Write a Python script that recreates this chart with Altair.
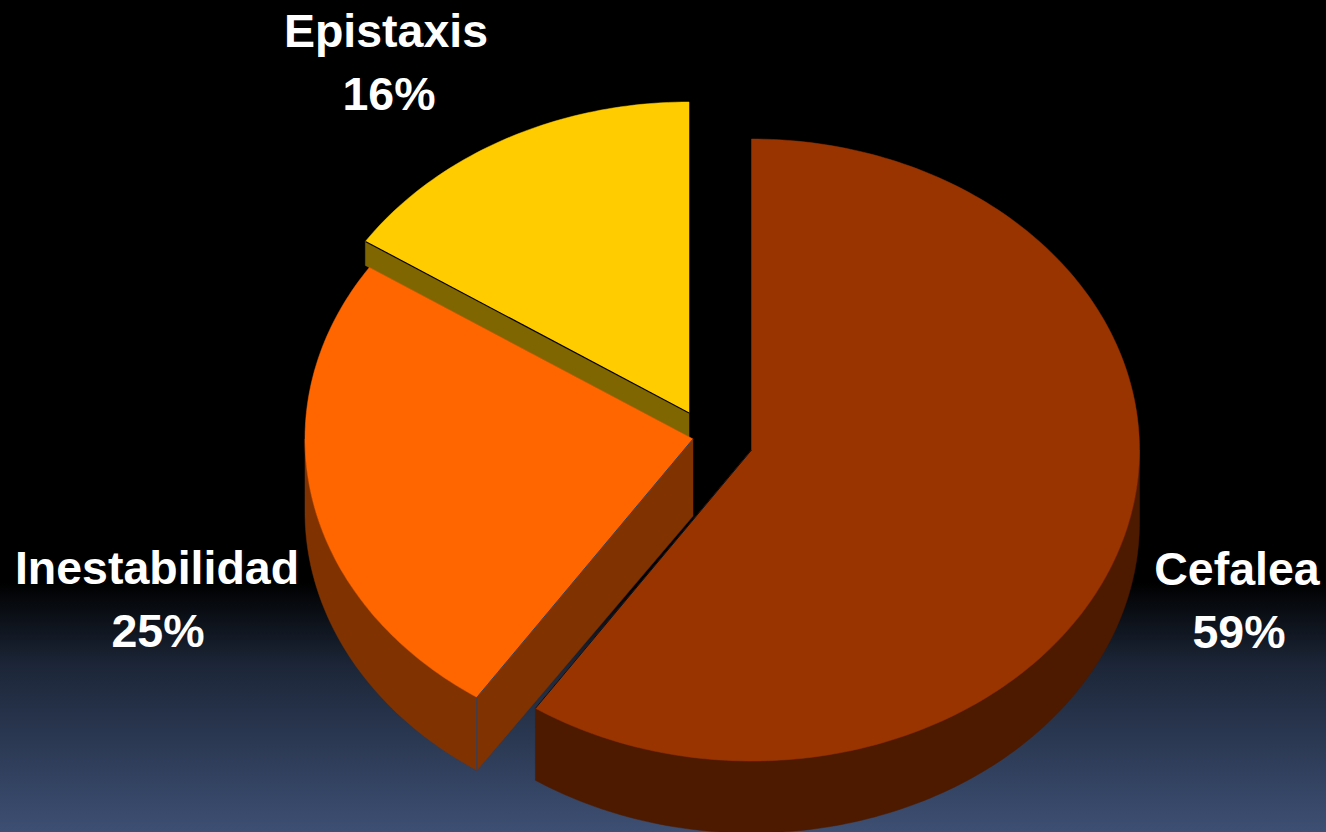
import math
import altair as alt

# Symptom shares, in percent, clockwise from twelve o'clock
names = ["Cefalea", "Inestabilidad", "Epistaxis"]
shares = [59.4, 24.9, 15.7]
top_colors = ["#993300", "#ff6600", "#ffcc00"]
outer_wall_colors = ["#4d1a00", "#803300", None]
radial_wall_colors = [None, "#803300", "#806600"]

# Pie geometry: each exploded slice has its own apex on a flattened disc
WIDTH, HEIGHT = 1326, 832
RADIUS_X, RADIUS_Y = 388, 311
apexes = [(751.5, 450), (693, 439), (689, 413)]
wall_depths = [72, 73, 24]
INNER_WALL_DEPTH = 77  # the wall looks taller towards the middle of the disc
name_anchors = [(1237, 571), (157, 570), (386, 33)]
share_anchors = [(1239, 634), (158, 633), (389, 96)]
BACKDROP = "#33415f"


def rim_point(apex, angle):
    return (apex[0] + RADIUS_X * math.sin(angle), apex[1] - RADIUS_Y * math.cos(angle))


def rim_arc(apex, start, end, step=math.radians(1.0)):
    count = max(2, int(abs(end - start) / step))
    return [rim_point(apex, start + (end - start) * i / count) for i in range(count + 1)]


def polygon(points, fill):
    ring = [list(p) for p in points] + [list(points[0])]
    return {
        "type": "Feature",
        "properties": {"fill": fill, "stroke": fill, "weight": 0.5},
        "geometry": {"type": "Polygon", "coordinates": [ring]},
    }


def seam(points, color, weight):
    return {
        "type": "Feature",
        "properties": {"fill": color, "stroke": color, "weight": weight},
        "geometry": {"type": "LineString", "coordinates": [list(p) for p in points]},
    }


def extruded(points, depth):
    return points + [(x, y + depth) for x, y in points][::-1]


bounds = []
running = 0.0
for share in shares:
    bounds.append((running / 100 * math.tau, (running + share) / 100 * math.tau))
    running += share

# Painter's order: walls first, the faces that sit over them afterwards
features = []

# Epistaxis: only the wall under its lower radial edge shows
apex, (start, end), depth = apexes[2], bounds[2], wall_depths[2]
lower_edge = [apex, rim_point(apex, start)]
features.append(polygon(extruded(lower_edge, depth), radial_wall_colors[2]))
features.append(polygon([apex] + rim_arc(apex, start, end), top_colors[2]))
features.append(seam(lower_edge, "#000000", 1.2))

# Inestabilidad: curved wall, radial wall and face
apex, (start, end), depth = apexes[1], bounds[1], wall_depths[1]
rim = rim_arc(apex, max(start, math.pi / 2), min(end, 3 * math.pi / 2))
features.append(polygon(extruded(rim, depth), outer_wall_colors[1]))
corner = rim_point(apex, start)
features.append(
    polygon(
        [apex, corner, (corner[0], corner[1] + depth), (apex[0], apex[1] + INNER_WALL_DEPTH)],
        radial_wall_colors[1],
    )
)
features.append(polygon([apex] + rim_arc(apex, start, end), top_colors[1]))
features.append(seam([apex, corner], BACKDROP, 1.0))
features.append(seam([corner, (corner[0], corner[1] + depth)], BACKDROP, 1.4))

# Cefalea: curved wall and face
apex, (start, end), depth = apexes[0], bounds[0], wall_depths[0]
rim = rim_arc(apex, max(start, math.pi / 2), min(end, 3 * math.pi / 2))
features.append(polygon(extruded(rim, depth), outer_wall_colors[0]))
features.append(polygon([apex] + rim_arc(apex, start, end), top_colors[0]))
features.append(seam([apex, rim_point(apex, end)], "#0c1019", 1.0))

background = (
    alt.Chart(alt.Data(values=[{"band": 0}]))
    .mark_rect(
        color=alt.Gradient(
            gradient="linear",
            x1=0, x2=0, y1=0, y2=1,
            stops=[
                alt.GradientStop(offset=0, color="#000000"),
                alt.GradientStop(offset=0.70, color="#000000"),
                alt.GradientStop(offset=0.80, color="#1c2638"),
                alt.GradientStop(offset=1, color="#3d4f73"),
            ],
        )
    )
    .encode(x=alt.value(0), x2=alt.value(WIDTH), y=alt.value(0), y2=alt.value(HEIGHT))
)

slices = (
    alt.Chart(
        alt.Data(
            values={"type": "FeatureCollection", "features": features},
            format=alt.DataFormat(type="json", property="features"),
        )
    )
    .mark_geoshape()
    .encode(
        fill=alt.Fill("properties.fill:N", scale=None),
        stroke=alt.Stroke("properties.stroke:N", scale=None),
        strokeWidth=alt.StrokeWidth("properties.weight:Q", scale=None),
    )
    .project(type="identity", scale=1, translate=[0, 0])
)

label_rows = []
for name, share, name_at, share_at in zip(names, shares, name_anchors, share_anchors):
    label_rows.append({"text": name, "px": name_at[0], "py": name_at[1]})
    label_rows.append({"text": f"{share:.0f}%", "px": share_at[0], "py": share_at[1]})

labels = (
    alt.Chart(alt.Data(values=label_rows))
    .mark_text(
        font="Liberation Sans",
        fontWeight="bold",
        fontSize=46.5,
        color="white",
        align="center",
        baseline="middle",
    )
    .encode(
        x=alt.X("px:Q", scale=alt.Scale(domain=[0, WIDTH], range=[0, WIDTH]), axis=None),
        y=alt.Y("py:Q", scale=alt.Scale(domain=[0, HEIGHT], range=[0, HEIGHT]), axis=None),
        text="text:N",
    )
)

chart = (
    alt.layer(background, slices, labels)
    .properties(width=WIDTH, height=HEIGHT, padding=0, autosize=alt.AutoSizeParams(type="none"))
    .configure_view(stroke=None)
    .configure(background="#000000")
)

chart.save("out.html", embed_options={"renderer": "svg", "actions": False})
